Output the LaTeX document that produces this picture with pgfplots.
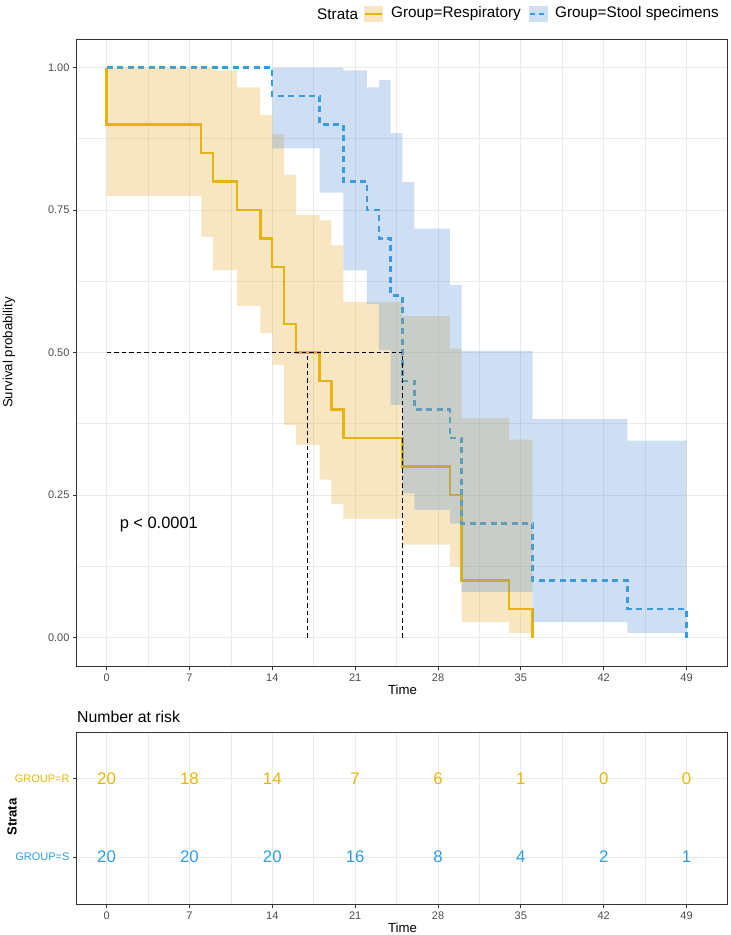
\documentclass[border=0pt]{standalone}
\usepackage{fontspec}
\setmainfont{Liberation Sans}
\usepackage{pgfplots}
\pgfplotsset{compat=1.18}
\definecolor{kmyellow}{HTML}{E7B800}
\definecolor{kmblue}{HTML}{2E9FDF}
\definecolor{bandY}{RGB}{232,172,52}
\definecolor{bandB}{RGB}{92,148,215}
\definecolor{gridc}{HTML}{EBEBEB}
\definecolor{framec}{HTML}{333333}
\definecolor{ticklab}{HTML}{4D4D4D}
\pgfplotsset{
  kmbase/.style={
    scale only axis, width=651pt,
    xmin=-2.5, xmax=52.5,
    axis line style={draw=framec, line width=1pt},
    tick style={draw=framec, line width=1pt},
    tick align=outside, major tick length=4pt, minor tick length=0pt,
    tick pos=left,
    xtick={0,7,...,49}, xticklabels={0,7,14,21,28,35,42,49},
    minor xtick={3.5,10.5,...,45.5},
    grid=both,
    major grid style={draw=gridc, line width=1pt},
    minor grid style={draw=gridc, line width=0.55pt},
    ticklabel style={font=\fontsize{11}{13}\selectfont, text=ticklab},
  }
}
\begin{document}
\begin{tikzpicture}
\path[use as bounding box] (0pt,0pt) rectangle (731pt,-935pt);

% legend
\node[anchor=west, font=\fontsize{15.3}{18}\selectfont, inner sep=0pt] at (317pt,-14pt) {Strata};
\fill[bandY, fill opacity=0.3] (364pt,-6pt) rectangle (383pt,-22pt);
\draw[kmyellow, line width=2.4pt] (365pt,-14pt) -- (382pt,-14pt);
\node[anchor=west, font=\fontsize{15.3}{18}\selectfont, inner sep=0pt] at (391pt,-14pt) {Group=Respiratory};
\fill[bandB, fill opacity=0.3] (529pt,-6pt) rectangle (548pt,-22pt);
\draw[kmblue, line width=2.4pt, dash pattern=on 5pt off 3.5pt] (530pt,-14pt) -- (547pt,-14pt);
\node[anchor=west, font=\fontsize{15.3}{18}\selectfont, inner sep=0pt] at (555pt,-14pt) {Group=Stool specimens};

\begin{axis}[kmbase,
  at={(77pt,-666pt)}, anchor=south west, height=627pt,
  ymin=-0.05, ymax=1.05,
  ytick={0,0.25,0.5,0.75,1}, yticklabels={0.00,0.25,0.50,0.75,1.00},
  minor ytick={0.125,0.375,0.625,0.875},
  xlabel={Time}, ylabel={Survival probability},
  every axis x label/.style={at={(axis description cs:0.5,-0.0383)}, anchor=center, font=\fontsize{13.2}{15}\selectfont},
  every axis y label/.style={at={(axis description cs:-0.1045,0.5)}, anchor=center, rotate=90, font=\fontsize{13.2}{15}\selectfont},
]
% survival curves
\addplot[kmyellow, line width=2.4pt, const plot] coordinates {
 (0,1) (0,0.9) (8,0.85) (9,0.8) (11,0.75) (13,0.7) (14,0.65) (15,0.55) (16,0.5)
 (18,0.45) (19,0.4) (20,0.35) (25,0.3) (29,0.25) (30,0.1) (34,0.05) (36,0)};
\addplot[kmblue, line width=2.4pt, const plot, dash pattern=on 6pt off 4.5pt] coordinates {
 (0,1) (14,0.95) (18,0.9) (20,0.8) (22,0.75) (23,0.7) (24,0.6) (25,0.45)
 (26,0.4) (29,0.35) (30,0.2) (36,0.1) (44,0.05) (49,0)};
% confidence ribbons (upper steps, then lower steps back)
\addplot[fill=bandY, fill opacity=0.3, draw=none] coordinates {
 (0,1.0) (9,1.0) (9,0.995) (11,0.995) (11,0.965) (13,0.965) (13,0.917) (14,0.917)
 (14,0.883) (15,0.883) (15,0.812) (16,0.812) (16,0.741) (18,0.741) (18,0.732) (19,0.732)
 (19,0.688) (20,0.688) (20,0.589) (25,0.589) (25,0.564) (29,0.564) (29,0.507) (30,0.507)
 (30,0.385) (34,0.385) (34,0.347) (36,0.347)
 (36,0.008) (34,0.008) (34,0.027) (30,0.027) (30,0.125) (29,0.125) (29,0.163) (25,0.163)
 (25,0.208) (20,0.208) (20,0.234) (19,0.234) (19,0.277) (18,0.277) (18,0.338) (16,0.338)
 (16,0.373) (15,0.373) (15,0.478) (14,0.478) (14,0.534) (13,0.534) (13,0.582) (11,0.582)
 (11,0.644) (9,0.644) (9,0.703) (8,0.703) (8,0.775) (0,0.775)} --cycle;
\addplot[fill=bandB, fill opacity=0.3, draw=none] coordinates {
 (14,1.0) (20,1.0) (20,0.995) (22,0.995) (22,0.965) (23,0.965) (23,0.978) (24,0.978)
 (24,0.885) (25,0.885) (25,0.799) (26,0.799) (26,0.7175) (29,0.7175) (29,0.618) (30,0.618)
 (30,0.503) (36,0.503) (36,0.3835) (44,0.3835) (44,0.3455) (49,0.3455)
 (49,0.008) (44,0.008) (44,0.027) (36,0.027) (36,0.08) (30,0.08) (30,0.2) (29,0.2)
 (29,0.224) (26,0.224) (26,0.253) (25,0.253) (25,0.408) (24,0.408) (24,0.504) (23,0.504)
 (23,0.585) (22,0.585) (22,0.644) (20,0.644) (20,0.7805) (18,0.7805) (18,0.858) (14,0.858)} --cycle;
% median lines
\addplot[black, line width=1.1pt, dash pattern=on 4.5pt off 3pt] coordinates {(0,0.5) (25,0.5)};
\addplot[black, line width=1.1pt, dash pattern=on 4.5pt off 3pt] coordinates {(17,0) (17,0.5)};
\addplot[black, line width=1.1pt, dash pattern=on 4.5pt off 3pt] coordinates {(25,0) (25,0.5)};
\node[anchor=west, font=\fontsize{16.4}{19}\selectfont, inner sep=0pt] at (axis cs:1.1,0.198) {p < 0.0001};
\end{axis}

\node[anchor=west, font=\fontsize{15.8}{18}\selectfont, inner sep=0pt] at (77pt,-716.7pt) {Number at risk};

\begin{axis}[kmbase,
  at={(77pt,-904pt)}, anchor=south west, height=172pt,
  ymin=0.4, ymax=2.6,
  ytick={1,2}, yticklabels={\textcolor{kmblue}{GROUP=S},\textcolor{kmyellow}{GROUP=R}},
  xlabel={Time}, ylabel={\bfseries Strata},
  every axis x label/.style={at={(axis description cs:0.5,-0.141)}, anchor=center, font=\fontsize{13.2}{15}\selectfont},
  every axis y label/.style={at={(axis description cs:-0.0998,0.506)}, anchor=center, rotate=90, font=\fontsize{13.2}{15}\selectfont},
]
\addplot[draw=none, nodes near coords, point meta=explicit symbolic,
  nodes near coords style={anchor=center, font=\fontsize{16.8}{19}\selectfont, text=kmyellow}]
  coordinates {(0,2)[20] (7,2)[18] (14,2)[14] (21,2)[7] (28,2)[6] (35,2)[1] (42,2)[0] (49,2)[0]};
\addplot[draw=none, nodes near coords, point meta=explicit symbolic,
  nodes near coords style={anchor=center, font=\fontsize{16.8}{19}\selectfont, text=kmblue}]
  coordinates {(0,1)[20] (7,1)[20] (14,1)[20] (21,1)[16] (28,1)[8] (35,1)[4] (42,1)[2] (49,1)[1]};
\end{axis}
\end{tikzpicture}
\end{document}
